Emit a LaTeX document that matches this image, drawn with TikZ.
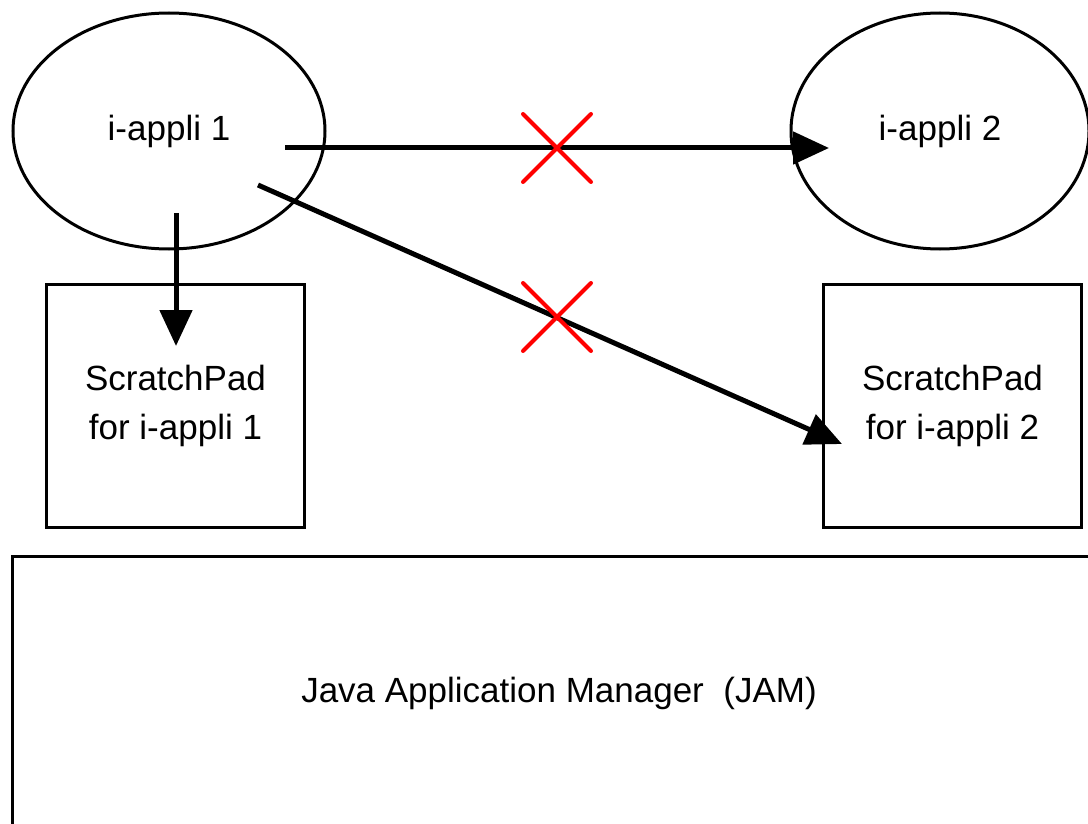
\documentclass[tikz,border=0pt]{standalone}
\usepackage{fontspec}
\setmainfont{Liberation Sans}
\usetikzlibrary{shapes.geometric,arrows.meta}
\begin{document}
\begin{tikzpicture}[x=1pt,y=-1pt,
  every node/.style={font=\fontsize{35}{49}\selectfont},
  appli/.style={draw, line width=3pt, ellipse, minimum width=312pt, minimum height=236pt, inner sep=0pt},
  padbox/.style={draw, line width=3pt, minimum width=258pt, minimum height=243pt, align=center, inner sep=0pt},
  jambox/.style={draw, line width=3pt, minimum width=1100pt, minimum height=290pt, inner sep=0pt},
  conn/.style={line width=5pt, -{Triangle[length=36pt,width=32pt]}},
  cross/.style={draw=red, line width=4pt, line cap=round}
]
\useasboundingbox (0,0) rectangle (1088,824);
\node[appli] (e1) at (169,131) {i-appli 1};
\node[appli, minimum width=298pt] (e2) at (940,131) {i-appli 2};
\node[padbox] (s1) at (175.5,406) {ScratchPad\\for i-appli 1};
\node[padbox] (s2) at (952.5,406) {ScratchPad\\for i-appli 2};
\node[jambox] (jam) at (562,701) {};
\node (jamtext) at (559,693) {Java Application Manager\ \ (JAM)};
% connector end points
\coordinate (h1) at (285,148);
\coordinate (h2) at (829,148);
\coordinate (v1) at (176,213);
\coordinate (v2) at (176,346);
\coordinate (d1) at (258,185);
\coordinate (d2) at (842,444);
\draw[conn] (h1) -- (h2);
\draw[conn] (v1) -- (v2);
\draw[conn] (d1) -- (d2);
% red crosses
\coordinate (x1) at (557,148);
\coordinate (x2) at (557,317);
\draw[cross] (x1) ++(-34,-34) -- ++(68,68);
\draw[cross] (x1) ++(34,-34) -- ++(-68,68);
\draw[cross] (x2) ++(-34,-34) -- ++(68,68);
\draw[cross] (x2) ++(34,-34) -- ++(-68,68);
\end{tikzpicture}
\end{document}
